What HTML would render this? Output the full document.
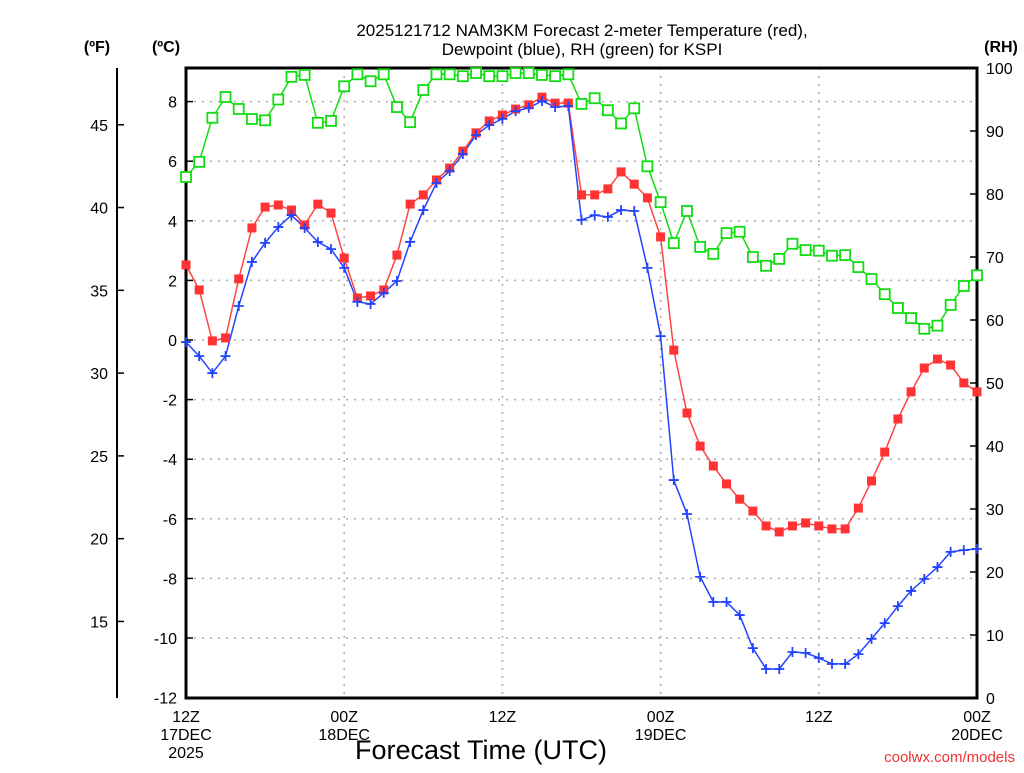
<!DOCTYPE html>
<html><head><meta charset="utf-8"><style>
body{margin:0;background:#fff;}
svg text{font-family:"Liberation Sans",sans-serif;}
</style></head><body>
<svg id="chart" width="1024" height="768" xmlns="http://www.w3.org/2000/svg">
<rect width="1024" height="768" fill="#fff"/>
<text x="582" y="36" text-anchor="middle" font-size="17">2025121712 NAM3KM Forecast 2-meter Temperature (red),</text>
<text x="582" y="55" text-anchor="middle" font-size="17">Dewpoint (blue), RH (green) for KSPI</text>
<text x="97" y="52" text-anchor="middle" font-size="16" font-weight="bold">(ºF)</text>
<text x="166" y="52" text-anchor="middle" font-size="16" font-weight="bold">(ºC)</text>
<text x="1001" y="52" text-anchor="middle" font-size="16" font-weight="bold">(RH)</text>
<text x="481" y="759" text-anchor="middle" font-size="27">Forecast Time (UTC)</text>
<text x="1015" y="762" text-anchor="end" font-size="15" fill="#e33">coolwx.com/models</text>
<g id="grid"></g><g id="axes"></g><g id="series"></g>
</svg>
<script>
const hours=[...Array(61).keys()];
const tempC=[2.52,1.68,-0.03,0.07,2.05,3.76,4.46,4.53,4.36,3.86,4.56,4.26,2.75,1.41,1.48,1.68,2.85,4.56,4.87,5.37,5.77,6.34,6.95,7.35,7.55,7.75,7.89,8.15,7.95,7.95,4.87,4.87,5.07,5.64,5.23,4.77,3.46,-0.34,-2.45,-3.56,-4.23,-4.83,-5.34,-5.74,-6.24,-6.44,-6.24,-6.14,-6.24,-6.34,-6.34,-5.64,-4.73,-3.76,-2.65,-1.74,-0.94,-0.64,-0.84,-1.44,-1.74];
const dewC=[-0.07,-0.54,-1.11,-0.54,1.14,2.62,3.26,3.79,4.19,3.76,3.29,3.05,2.42,1.28,1.21,1.58,1.98,3.29,4.36,5.27,5.67,6.24,6.88,7.21,7.42,7.68,7.79,8.02,7.82,7.85,4.03,4.19,4.13,4.36,4.33,2.42,0.13,-4.70,-5.84,-7.95,-8.79,-8.79,-9.23,-10.34,-11.04,-11.04,-10.47,-10.50,-10.67,-10.87,-10.87,-10.54,-10.03,-9.50,-8.93,-8.42,-8.02,-7.62,-7.11,-7.05,-7.01];
const rh=[82.7,85.1,92.1,95.4,93.5,91.9,91.7,95.0,98.6,98.9,91.3,91.6,97.1,99.0,97.9,99.0,93.8,91.4,96.5,99.0,99.0,98.7,99.2,98.7,98.7,99.2,99.2,98.9,98.7,99.0,94.3,95.2,93.3,91.2,93.6,84.4,78.7,72.2,77.3,71.6,70.5,73.8,74.0,70.0,68.6,69.7,72.1,71.1,71.0,70.2,70.3,68.4,66.5,64.1,61.9,60.3,58.6,59.1,62.4,65.4,67.1];
const cTicks=[-12,-10,-8,-6,-4,-2,0,2,4,6,8];
const fTicks=[15,20,25,30,35,40,45];
const rhTicks=[0,10,20,30,40,50,60,70,80,90,100];
const xTickHours=[0,12,24,36,48,60];
const xTickLabels=[["12Z","17DEC","2025"],["00Z","18DEC"],["12Z"],["00Z","19DEC"],["12Z"],["00Z","20DEC"]];
const L=186,R=977,T=68,B=698;
const xs=h=>L+(R-L)*h/60;
const yc=c=>340-c*29.8;
const yr=v=>B-(B-T)*v/100;
const yf=f=>yc((f-32)*5/9);
const NS="http://www.w3.org/2000/svg";
function mk(tag,attrs,parent){const e=document.createElementNS(NS,tag);for(const k in attrs)e.setAttribute(k,attrs[k]);parent.appendChild(e);return e;}
const grid=document.getElementById('grid'),axes=document.getElementById('axes'),ser=document.getElementById('series');
cTicks.forEach(c=>{
  const l=mk('line',{x1:L,x2:R,y1:yc(c),y2:yc(c),stroke:'#aaa','stroke-dasharray':'2,6','stroke-width':1.5},grid);
  
  
  const t=mk('text',{x:177,y:yc(c)+6,'text-anchor':'end','font-size':16},axes);t.textContent=c;
  
  
  mk('line',{x1:L,x2:L+7,y1:yc(c),y2:yc(c),stroke:'#000','stroke-width':1.5},axes);
});
xTickHours.forEach((h,i)=>{
  if(h>0&&h<60){const l=mk('line',{x1:xs(h),x2:xs(h),y1:T,y2:B,stroke:'#aaa','stroke-dasharray':'2,6','stroke-width':1.5},grid);
  
  }
  xTickLabels[i].forEach((s,j)=>{const t=mk('text',{x:xs(h),y:722+j*18,'text-anchor':'middle','font-size':16},axes);t.textContent=s;
  
  });
});
rhTicks.forEach(v=>{
  const t=mk('text',{x:986,y:yr(v)+6,'font-size':16},axes);t.textContent=v;
  
  
  mk('line',{x1:R-7,x2:R,y1:yr(v),y2:yr(v),stroke:'#000','stroke-width':1.5},axes);
});
mk('line',{x1:117,x2:117,y1:T,y2:B,stroke:'#000','stroke-width':2},axes);
fTicks.forEach(f=>{
  const t=mk('text',{x:108,y:yf(f)+6,'text-anchor':'end','font-size':16},axes);t.textContent=f;
  
  
  mk('line',{x1:117,x2:124,y1:yf(f),y2:yf(f),stroke:'#000','stroke-width':1.5},axes);
});
const frame=mk('rect',{x:L,y:T,width:R-L,height:B-T,fill:'none',stroke:'#000','stroke-width':3},axes);


function line(vals,yfn,color,name){
  const p=mk('polyline',{points:vals.map((v,i)=>xs(hours[i])+','+yfn(v)).join(' '),fill:'none',stroke:color,'stroke-width':1.5},ser);
  
  
}
line(rh,yr,'#1d1','rh-line');
line(tempC,yc,'#f44','temperature-line');
line(dewC,yc,'#24f','dewpoint-line');
rh.forEach((v,i)=>{const r=mk('rect',{x:xs(hours[i])-5,y:yr(v)-5,width:10,height:10,fill:'#fff',stroke:'#1d1','stroke-width':1.8},ser);

});
tempC.forEach((v,i)=>{const r=mk('rect',{x:xs(hours[i])-4.5,y:yc(v)-4.5,width:9,height:9,fill:'#f33'},ser);

});
dewC.forEach((v,i)=>{const x=xs(hours[i]),y=yc(v);const p=mk('path',{d:`M${x-5},${y}H${x+5}M${x},${y-5}V${y+5}`,stroke:'#24f','stroke-width':1.8},ser);

});
</script>
</body></html>
